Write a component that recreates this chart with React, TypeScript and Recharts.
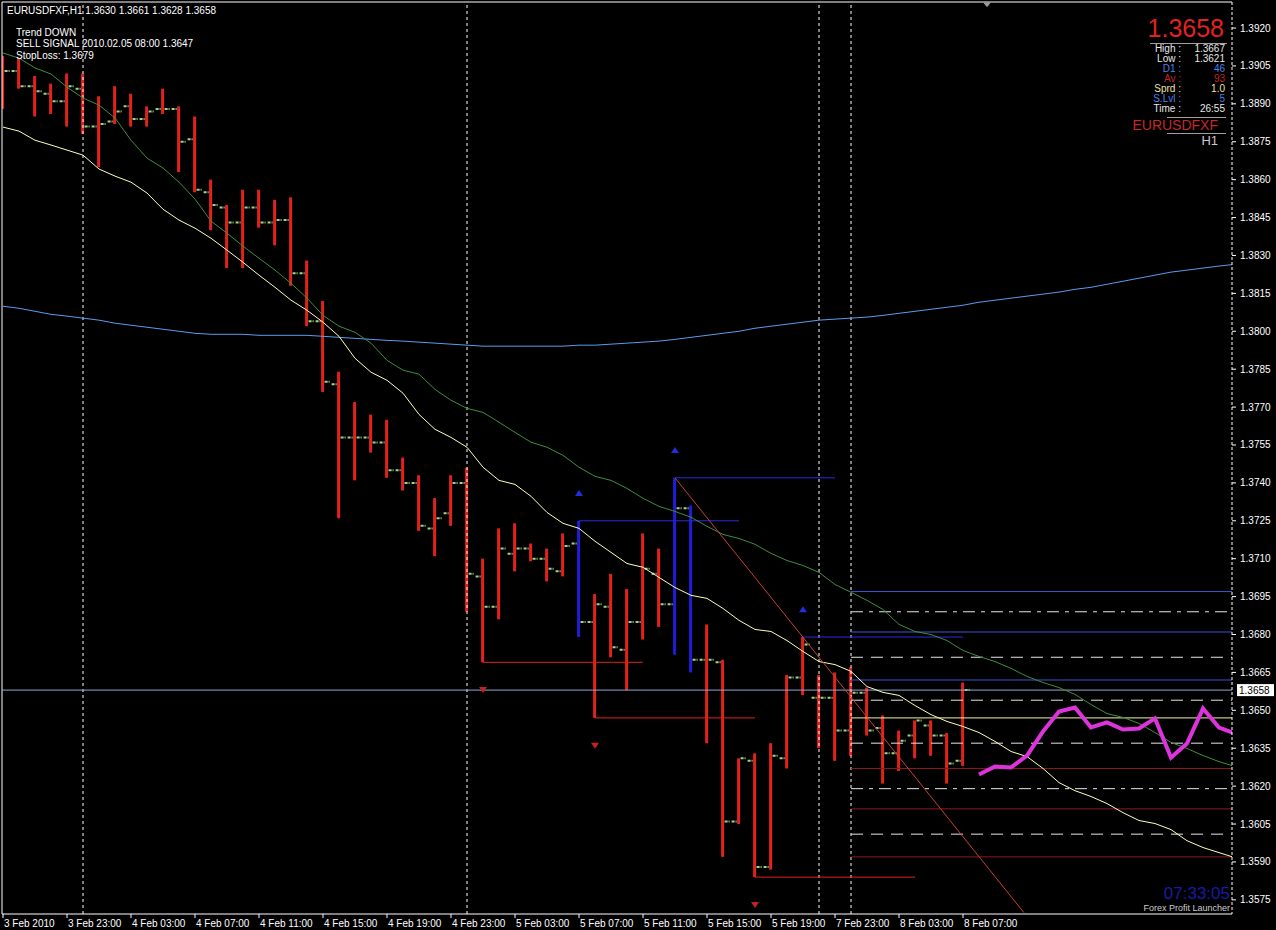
import React from 'react';
import { ComposedChart, Bar, Line, Scatter, XAxis, YAxis, ReferenceLine } from 'recharts';

const FONT = "'Liberation Sans', Arial, sans-serif";

// ---------- axis ticks ----------
const timeTickIndex = [0, 4, 8, 12, 16, 20, 24, 28, 32, 36, 40, 44, 48, 52, 56, 60];
const timeTickLabels = [
  '3 Feb 2010', '3 Feb 23:00', '4 Feb 03:00', '4 Feb 07:00', '4 Feb 11:00', '4 Feb 15:00',
  '4 Feb 19:00', '4 Feb 23:00', '5 Feb 03:00', '5 Feb 07:00', '5 Feb 11:00', '5 Feb 15:00',
  '5 Feb 19:00', '7 Feb 23:00', '8 Feb 03:00', '8 Feb 07:00',
];
const priceTicks = [
  1.392, 1.3905, 1.389, 1.3875, 1.386, 1.3845, 1.383, 1.3815, 1.38, 1.3785, 1.377, 1.3755,
  1.374, 1.3725, 1.371, 1.3695, 1.368, 1.3665, 1.365, 1.3635, 1.362, 1.3605, 1.359, 1.3575,
];
const xDomain: [number, number] = [-0.0625, 76.8125];
const yDomain: [number, number] = [1.35694, 1.39303];

// ---------- H1 bars (OHLC) ----------
const opens = [
  1.3907, 1.3903, 1.3897, 1.3894, 1.3891, 1.3896, 1.3881, 1.3883, 1.3889, 1.3884,
  1.3888, 1.3888, 1.3876, 1.3855, 1.3849, 1.3843, 1.3849, 1.3843, 1.3844, 1.3823,
  1.3804, 1.3779, 1.3758, 1.3758, 1.3756, 1.3745, 1.3740, 1.3722, 1.3728, 1.3740,
  1.3703, 1.3691, 1.3712, 1.3714, 1.3710, 1.3705, 1.3716, 1.3685, 1.3691, 1.3674,
  1.3685, 1.3704, 1.3692, 1.3730, 1.3670, 1.3669, 1.3606, 1.3630, 1.3588, 1.3631,
  1.3663, 1.3655, 1.3655, 1.3642, 1.3657, 1.3643, 1.3633, 1.3640, 1.3644, 1.3640,
  1.3630,
];
const highs = [
  1.3909, 1.3908, 1.3901, 1.3898, 1.3902, 1.3902, 1.3893, 1.3897, 1.3894, 1.3889,
  1.3896, 1.3889, 1.3885, 1.3860, 1.3850, 1.3856, 1.3856, 1.3852, 1.3853, 1.3828,
  1.3812, 1.3784, 1.3772, 1.3767, 1.3765, 1.3750, 1.3743, 1.3734, 1.3743, 1.3746,
  1.3710, 1.3722, 1.3724, 1.3716, 1.3714, 1.3720, 1.3725, 1.3696, 1.3704, 1.3698,
  1.3720, 1.3714, 1.3742, 1.3731, 1.3684, 1.3670, 1.3631, 1.3633, 1.3637, 1.3664,
  1.3679, 1.3664, 1.3665, 1.3667, 1.3659, 1.3648, 1.3642, 1.3646, 1.3646, 1.3641,
  1.3661,
];
const lows = [
  1.3888, 1.3896, 1.3885, 1.3886, 1.3881, 1.3878, 1.3865, 1.3882, 1.3881, 1.3881,
  1.3886, 1.3863, 1.3855, 1.3840, 1.3825, 1.3825, 1.3841, 1.3834, 1.3818, 1.3802,
  1.3776, 1.3726, 1.3741, 1.3752, 1.3742, 1.3737, 1.3721, 1.3711, 1.3723, 1.3689,
  1.3669, 1.3686, 1.3705, 1.3709, 1.3701, 1.3703, 1.3679, 1.3647, 1.3671, 1.3658,
  1.3678, 1.3683, 1.3672, 1.3665, 1.3637, 1.3592, 1.3605, 1.3584, 1.3587, 1.3627,
  1.3656, 1.3635, 1.3630, 1.3632, 1.3640, 1.3621, 1.3626, 1.3631, 1.3632, 1.3621,
  1.3628,
];
const closes = [
  1.3903, 1.3897, 1.3895, 1.3891, 1.3897, 1.3881, 1.3882, 1.3887, 1.3884, 1.3887,
  1.3888, 1.3875, 1.3856, 1.3850, 1.3843, 1.3849, 1.3843, 1.3844, 1.3823, 1.3804,
  1.3780, 1.3758, 1.3758, 1.3756, 1.3745, 1.3740, 1.3723, 1.3726, 1.3740, 1.3704,
  1.3691, 1.3714, 1.3714, 1.3710, 1.3706, 1.3715, 1.3685, 1.3692, 1.3675, 1.3685,
  1.3706, 1.3692, 1.3730, 1.3670, 1.3670, 1.3606, 1.3631, 1.3588, 1.3632, 1.3663,
  1.3676, 1.3655, 1.3642, 1.3657, 1.3642, 1.3633, 1.3638, 1.3646, 1.3640, 1.3629,
  1.3658,
];
const signalBars = [36, 42, 43];

// ---------- moving averages (shifted into the future) ----------
const maFast = [
  1.38808, 1.38792, 1.38756, 1.38737, 1.38717, 1.38697, 1.38642, 1.38614, 1.38590, 1.38547,
  1.38483, 1.38440, 1.38408, 1.38368, 1.38321, 1.38273, 1.38222, 1.38174, 1.38123, 1.38083,
  1.38036, 1.37980, 1.37893, 1.37838, 1.37806, 1.37755, 1.37671, 1.37612, 1.37580, 1.37541,
  1.37462, 1.37410, 1.37394, 1.37347, 1.37283, 1.37240, 1.37220, 1.37169, 1.37125, 1.37081,
  1.37066, 1.37026, 1.36986, 1.36955, 1.36943, 1.36903, 1.36856, 1.36820, 1.36812, 1.36776,
  1.36733, 1.36693, 1.36681, 1.36654, 1.36594, 1.36571, 1.36559, 1.36519, 1.36483, 1.36456,
  1.36436, 1.36412, 1.36377, 1.36337, 1.36317, 1.36270, 1.36214, 1.36182, 1.36159, 1.36131,
  1.36095, 1.36064, 1.36052, 1.36028, 1.35984, 1.35957, 1.35937, 1.35917,
];
const maSlow = [
  1.39101, 1.39081, 1.39042, 1.39018, 1.38966, 1.38923, 1.38895, 1.38844, 1.38756, 1.38685,
  1.38646, 1.38590, 1.38523, 1.38436, 1.38388, 1.38337, 1.38289, 1.38242, 1.38190, 1.38131,
  1.38063, 1.38020, 1.37996, 1.37953, 1.37885, 1.37846, 1.37830, 1.37770, 1.37727, 1.37695,
  1.37679, 1.37640, 1.37600, 1.37561, 1.37541, 1.37509, 1.37462, 1.37426, 1.37410, 1.37378,
  1.37339, 1.37307, 1.37287, 1.37264, 1.37228, 1.37196, 1.37180, 1.37157, 1.37121, 1.37093,
  1.37073, 1.37046, 1.36998, 1.36967, 1.36935, 1.36899, 1.36840, 1.36812, 1.36800, 1.36776,
  1.36737, 1.36713, 1.36693, 1.36666, 1.36634, 1.36610, 1.36590, 1.36563, 1.36523, 1.36487,
  1.36472, 1.36448, 1.36412, 1.36373, 1.36349, 1.36321, 1.36297, 1.36278,
];
const maLong = [
  1.38099, 1.38091, 1.38079, 1.38067, 1.38060, 1.38052, 1.38044, 1.38032, 1.38024, 1.38016,
  1.38008, 1.38000, 1.37992, 1.37988, 1.37988, 1.37988, 1.37984, 1.37984, 1.37984, 1.37984,
  1.37980, 1.37976, 1.37972, 1.37968, 1.37964, 1.37961, 1.37957, 1.37953, 1.37949, 1.37945,
  1.37941, 1.37941, 1.37941, 1.37941, 1.37941, 1.37941, 1.37945, 1.37945, 1.37949, 1.37953,
  1.37957, 1.37961, 1.37968, 1.37976, 1.37984, 1.37992, 1.38000, 1.38012, 1.38020, 1.38028,
  1.38036, 1.38044, 1.38048, 1.38052, 1.38056, 1.38063, 1.38071, 1.38079, 1.38087, 1.38095,
  1.38103, 1.38115, 1.38123, 1.38131, 1.38139, 1.38147, 1.38155, 1.38166, 1.38174, 1.38186,
  1.38198, 1.38210, 1.38222, 1.38234, 1.38242, 1.38250, 1.38258, 1.38265,
];

// ---------- projected path (magenta) ----------
const projStart = 61;
const projection = [
  1.36246, 1.36278, 1.36274, 1.36321, 1.36416, 1.36495, 1.36511, 1.36432, 1.36452,
  1.36424, 1.36428, 1.36468, 1.36313, 1.36369, 1.36507, 1.36432, 1.36408,
];

// ---------- levels ----------
const levelStart = 53;
const blueLevels = [1.3697, 1.3681, 1.3662];
const dashDotLevels = [1.3689, 1.3619];
const dashLevels = [1.3671, 1.3654, 1.3637, 1.3601];
const redLevels = [1.3627, 1.3611, 1.3592];
const signalLevel = 1.3647;
const currentPrice = 1.3658;
const daySeparators = [5, 29, 51, 53];

const highLines = [
  { from: 36, to: 46, p: 1.3725 },
  { from: 42, to: 52, p: 1.3742 },
  { from: 50, to: 60, p: 1.3679 },
];
const lowLines = [
  { from: 30, to: 40, p: 1.3669 },
  { from: 37, to: 47, p: 1.3647 },
  { from: 47, to: 57, p: 1.3584 },
];
const trendLine = [{ i: 42, p: 1.3742 }, { i: 63.8, p: 1.357 }];

const upArrows = [{ i: 36, p: 1.3736 }, { i: 42, p: 1.3753 }, { i: 50, p: 1.369 }];
const downArrows = [{ i: 30, p: 1.3658 }, { i: 37, p: 1.3636 }, { i: 47, p: 1.3573 }];
const shiftMarker = [{ i: 61.5, p: 1.3929 }];

const rows = maFast.map((f, i) => ({
  i,
  range: i < opens.length ? [lows[i], highs[i]] : null,
  o: i < opens.length ? opens[i] : null,
  h: i < opens.length ? highs[i] : null,
  l: i < opens.length ? lows[i] : null,
  c: i < opens.length ? closes[i] : null,
  fast: f,
  slow: maSlow[i],
  long: maLong[i],
  proj: i >= projStart ? projection[i - projStart] : null,
}));

const OhlcShape = (props: any) => {
  const { x, y, width, height } = props;
  const d = props.payload && props.payload.h != null ? props.payload : rows[props.index];
  if (!d || d.h == null || x == null || y == null) return null;
  const top = Math.min(y, y + height);
  const span = Math.abs(height);
  const cx = x + width / 2;
  const range = d.h - d.l || 1;
  const yo = top + ((d.h - d.o) / range) * span;
  const yc = top + ((d.h - d.c) / range) * span;
  const color = signalBars.includes(d.i) ? '#1d1ddc' : '#e3201b';
  return (
    <g>
      <line x1={cx} x2={cx} y1={top} y2={top + span} stroke={color} strokeWidth={3} />
      <line x1={cx - 7} x2={cx - 2} y1={yo} y2={yo} stroke="#9fd88a" strokeWidth={2} strokeDasharray="3 1" />
      <line x1={cx + 2} x2={cx + 7} y1={yc} y2={yc} stroke="#9fd88a" strokeWidth={2} strokeDasharray="3 1" />
    </g>
  );
};

const UpArrow = (p: any) => (
  <polygon points={`${p.cx - 4},${p.cy + 3} ${p.cx + 4},${p.cy + 3} ${p.cx},${p.cy - 3}`} fill="#2030d8" />
);
const DownArrow = (p: any) => (
  <polygon points={`${p.cx - 4},${p.cy - 3} ${p.cx + 4},${p.cy - 3} ${p.cx},${p.cy + 3}`} fill="#c82020" />
);
const GrayMarker = (p: any) => (
  <polygon points={`${p.cx - 4},${p.cy - 3} ${p.cx + 4},${p.cy - 3} ${p.cx},${p.cy + 2}`} fill="#9a9a9a" />
);

const XTick = (props: any) => {
  const { x, y, payload } = props;
  const k = timeTickIndex.indexOf(payload.value);
  return (
    <text x={x + 1} y={y + 7} fill="#ffffff" fontSize={10} fontFamily={FONT}>
      {k >= 0 ? timeTickLabels[k] : ''}
    </text>
  );
};
const YTick = (props: any) => {
  const { x, y, payload } = props;
  return (
    <text x={x} y={y + 3.5} fill="#ffffff" fontSize={10} fontFamily={FONT}>
      {Number(payload.value).toFixed(4)}
    </text>
  );
};

const PriceTag = (props: any) => {
  const vb = props.viewBox || {};
  const x = (vb.x || 0) + (vb.width || 0) + 5;
  const y = vb.y || 0;
  return (
    <g>
      <rect x={x} y={y - 6} width={37} height={12} fill="#ffffff" />
      <text x={x + 2} y={y + 4} fontSize={10} fontFamily={FONT} fill="#000000">
        {currentPrice.toFixed(4)}
      </text>
    </g>
  );
};

const panelRows = [
  { label: 'High :', value: '1.3667', color: '#e8e8e8' },
  { label: 'Low :', value: '1.3621', color: '#e8e8e8' },
  { label: 'D1 :', value: '46', color: '#4a80e8' },
  { label: 'Av :', value: '93', color: '#c02424' },
  { label: 'Sprd :', value: '1.0', color: '#f0e0a8' },
  { label: 'S.Lvl :', value: '5', color: '#4a80e8' },
  { label: 'Time :', value: '26:55', color: '#e8e8e8' },
];

export default function App() {
  return (
    <div style={{ position: 'fixed', left: 0, top: 0, width: 1276, height: 930, background: '#000000', overflow: 'hidden' }}>
      <ComposedChart width={1276} height={930} data={rows} margin={{ top: 2, right: 0, bottom: 0, left: 2 }}>
        <XAxis
          dataKey="i"
          type="number"
          domain={xDomain}
          allowDataOverflow
          ticks={timeTickIndex}
          interval={0}
          height={16}
          tickSize={4}
          tickMargin={2}
          stroke="#ffffff"
          axisLine={{ stroke: '#ffffff' }}
          tickLine={{ stroke: '#ffffff' }}
          tick={<XTick />}
        />
        <YAxis
          orientation="right"
          type="number"
          domain={yDomain}
          allowDataOverflow
          ticks={priceTicks}
          interval={0}
          width={44}
          tickSize={4}
          tickMargin={4}
          axisLine={{ stroke: '#ffffff', strokeDasharray: '3 2' }}
          tickLine={{ stroke: '#ffffff' }}
          tick={<YTick />}
        />

        <ReferenceLine x={xDomain[0]} stroke="#ffffff" ifOverflow="visible" />
        <ReferenceLine y={yDomain[1]} stroke="#ffffff" ifOverflow="visible" />
        {daySeparators.map((d) => (
          <ReferenceLine key={'sep' + d} x={d} stroke="#ffffff" strokeDasharray="3 3" />
        ))}

        {blueLevels.map((p) => (
          <ReferenceLine key={'bl' + p} segment={[{ x: levelStart, y: p }, { x: xDomain[1], y: p }]} stroke="#3e56d0" />
        ))}
        {dashDotLevels.map((p) => (
          <ReferenceLine key={'dd' + p} segment={[{ x: levelStart, y: p }, { x: xDomain[1], y: p }]} stroke="#e6e6e6" strokeDasharray="12 6 4 6" />
        ))}
        {dashLevels.map((p) => (
          <ReferenceLine key={'dl' + p} segment={[{ x: levelStart, y: p }, { x: xDomain[1], y: p }]} stroke="#e6e6e6" strokeDasharray="12 8" />
        ))}
        {redLevels.map((p) => (
          <ReferenceLine key={'rl' + p} segment={[{ x: levelStart, y: p }, { x: xDomain[1], y: p }]} stroke="#8e1c1c" />
        ))}
        <ReferenceLine segment={[{ x: levelStart, y: signalLevel }, { x: xDomain[1], y: signalLevel }]} stroke="#f4f4a0" />

        {highLines.map((s) => (
          <ReferenceLine key={'hl' + s.from} segment={[{ x: s.from, y: s.p }, { x: s.to, y: s.p }]} stroke="#2a2ae0" />
        ))}
        {lowLines.map((s) => (
          <ReferenceLine key={'ll' + s.from} segment={[{ x: s.from, y: s.p }, { x: s.to, y: s.p }]} stroke="#e02222" />
        ))}

        <ReferenceLine y={currentPrice} stroke="#93a8d8" label={PriceTag} />

        <Bar dataKey="range" barSize={16} shape={OhlcShape} isAnimationActive={false} />

        <Line dataKey="long" type="linear" stroke="#5a9cf0" strokeWidth={1} dot={false} isAnimationActive={false} />
        <Line dataKey="slow" type="linear" stroke="#3f8f3a" strokeWidth={1} dot={false} isAnimationActive={false} />
        <Line dataKey="fast" type="linear" stroke="#ffffb8" strokeWidth={1} dot={false} isAnimationActive={false} />
        <Line dataKey="proj" type="linear" stroke="#dd33dd" strokeWidth={4} dot={false} isAnimationActive={false} connectNulls={false} />

        <ReferenceLine
          segment={[{ x: trendLine[0].i, y: trendLine[0].p }, { x: trendLine[1].i, y: trendLine[1].p }]}
          stroke="#c8402c"
        />

        <Scatter data={upArrows} dataKey="p" shape={UpArrow} isAnimationActive={false} />
        <Scatter data={downArrows} dataKey="p" shape={DownArrow} isAnimationActive={false} />
        <Scatter data={shiftMarker} dataKey="p" shape={GrayMarker} isAnimationActive={false} />
      </ComposedChart>

      <svg width={1276} height={930} style={{ position: 'absolute', left: 0, top: 0, pointerEvents: 'none' }}>
        <g fontFamily={FONT} fill="#ffffff" fontSize={10}>
          <text x={7} y={14}>EURUSDFXF,H1  1.3630 1.3661 1.3628 1.3658</text>
          <text x={16} y={36}>Trend DOWN</text>
          <text x={16} y={47}>SELL SIGNAL 2010.02.05 08:00 1.3647</text>
          <text x={16} y={59}>StopLoss: 1.3679</text>
        </g>

        <text x={1224} y={37} textAnchor="end" fontFamily={FONT} fontSize={25} fill="#e02222">1.3658</text>
        <line x1={1150} x2={1227} y1={43.5} y2={43.5} stroke="#a0a0a0" />
        {panelRows.map((r, k) => (
          <g key={r.label} fontFamily={FONT} fontSize={10} fill={r.color}>
            <text x={1181} y={52 + k * 10} textAnchor="end">{r.label}</text>
            <text x={1225} y={52 + k * 10} textAnchor="end">{r.value}</text>
          </g>
        ))}
        <line x1={1167} x2={1226} y1={117.5} y2={117.5} stroke="#a0a0a0" />
        <text x={1218} y={130} textAnchor="end" fontFamily={FONT} fontSize={14} fill="#c42828">EURUSDFXF</text>
        <line x1={1167} x2={1226} y1={133.5} y2={133.5} stroke="#a0a0a0" />
        <text x={1218} y={145} textAnchor="end" fontFamily={FONT} fontSize={13} fill="#c8c8c8">H1</text>

        <text x={1230} y={899} textAnchor="end" fontFamily={FONT} fontSize={17} fill="#1a1aa6">07:33:05</text>
        <text x={1230} y={911} textAnchor="end" fontFamily={FONT} fontSize={9} fill="#cccccc">Forex Profit Launcher</text>
      </svg>
    </div>
  );
}
